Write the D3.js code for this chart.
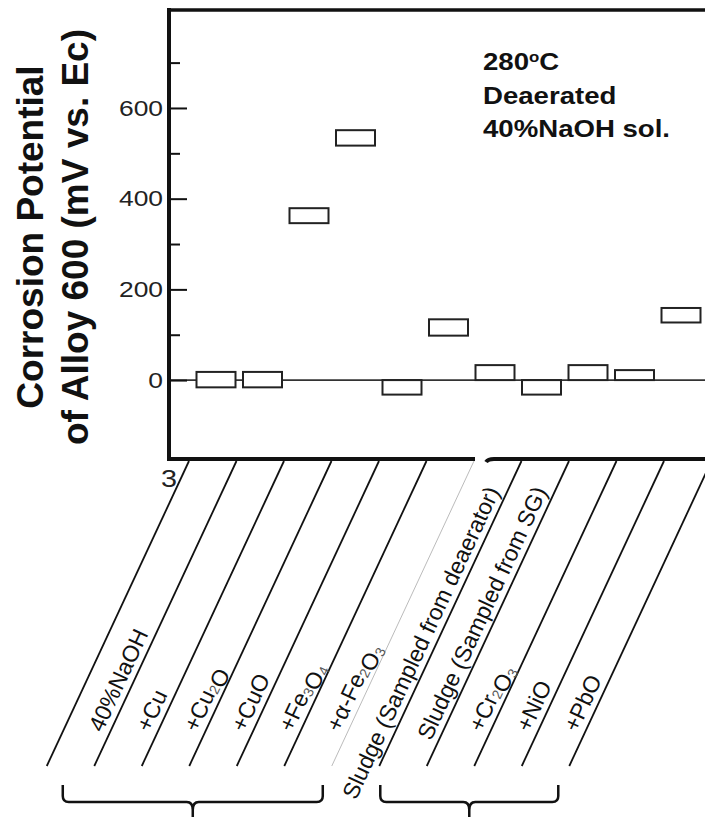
<!DOCTYPE html>
<html>
<head>
<meta charset="utf-8">
<script src="https://cdn.jsdelivr.net/npm/d3@7"></script>
<style>
  body { margin: 0; background: #fff; }
  svg { display: block; }
</style>
</head>
<body>
<div id="chart"></div>
<script>
// categories along the slanted x labels
const categories = ["40%NaOH", "+Cu", "+Cu2O", "+CuO", "+Fe3O4", "+a-Fe2O3",
  "Sludge (Sampled from deaerator)", "Sludge (Sampled from SG)", "+Cr2O3", "+NiO", "+PbO"];
// label text, "_n" marks a subscript
const tickLabels = ["40%NaOH", "+Cu", "+Cu_2O", "+CuO", "+Fe_3O_4", "+α-Fe_2O_3",
  "Sludge (Sampled from deaerator)", "Sludge (Sampled from SG)", "+Cr_2O_3", "+NiO", "+PbO"];
// corrosion potential range for each box (mV vs. Ec)
const lowValues  = [-16, -16, 346, 517, -32,  98,  0, -32,  0,  0, 127];
const highValues = [ 18,  18, 379, 551,   0, 134, 33,   0, 33, 22, 159];

const majorTicks = [0, 200, 400, 600];
const minorTicks = [100, 300, 500, 700];
const noteLines = ["Deaerated", "40%NaOH sol."];

const width = 705, height = 817;
const axisX = 169, plotTop = 10, plotBottom = 459;
const angle = 65 * Math.PI / 180;
const slant = 1 / Math.tan(angle);
const lineTop = 461, lineBottom = 766;
const stretch = "scale(1.2,1)";

const svg = d3.select("#chart").append("svg")
    .attr("width", width)
    .attr("height", height)
    .style("font-family", "'Liberation Sans', Arial, sans-serif");

const y = d3.scaleLinear().domain([-174, 816]).range([plotBottom, plotTop]);
const xBox = d3.scalePoint().domain(categories).range([216, 681]);
const xStrip = d3.scaleBand().domain(categories).range([189, 711.5]);

// zero line
svg.append("line")
    .attr("x1", axisX).attr("x2", width)
    .attr("y1", y(0)).attr("y2", y(0))
    .attr("stroke", "#333").attr("stroke-width", 1.6);

// boxes
const rows = categories.map((c, i) => ({cat: c, lo: lowValues[i], hi: highValues[i]}));
svg.append("g")
  .selectAll("rect")
  .data(rows)
  .join("rect")
    .attr("x", d => xBox(d.cat) - 19.5)
    .attr("width", 39)
    .attr("y", d => y(d.hi))
    .attr("height", d => y(d.lo) - y(d.hi))
    .attr("fill", "#fff")
    .attr("stroke", "#222")
    .attr("stroke-width", 2);

// y axis, ticks pointing inward
const yAxis = svg.append("g")
    .attr("transform", `translate(${axisX},0)`)
    .call(d3.axisLeft(y).tickValues(majorTicks).tickSizeInner(-18).tickSizeOuter(0).tickPadding(5))
    .call(g => g.select(".domain").remove());
yAxis.selectAll(".tick line").attr("stroke", "#111").attr("stroke-width", 2);
yAxis.selectAll(".tick text")
    .attr("fill", "#222")
    .attr("font-size", 22)
    .attr("font-family", "'Liberation Sans', Arial, sans-serif")
    .attr("transform", stretch);

svg.append("g")
    .attr("transform", `translate(${axisX},0)`)
    .call(d3.axisLeft(y).tickValues(minorTicks).tickSizeInner(-11).tickSizeOuter(0).tickFormat(""))
    .call(g => g.select(".domain").remove())
    .selectAll(".tick line").attr("stroke", "#111").attr("stroke-width", 2);

// frame (bottom edge has a small break in the original)
const frame = svg.append("g").attr("stroke", "#111").attr("stroke-width", 4).attr("fill", "none");
frame.append("path").attr("d", `M${axisX},${plotTop - 2}V${plotBottom + 2}`);
frame.append("path").attr("d", `M${axisX - 2},${plotTop}H${width}`).attr("stroke-width", 3.5);
frame.append("path").attr("d", `M${axisX - 2},${plotBottom}H475`);
frame.append("path").attr("d", `M486,${plotBottom + 3}Q488,${plotBottom} 494,${plotBottom}H${width}`);

// y title
const title = ["Corrosion Potential", "of Alloy 600 (mV vs. Ec)"];
svg.append("g")
  .selectAll("text")
  .data(title)
  .join("text")
    .attr("transform", (d, i) => `translate(${43 + i * 45},237) rotate(-90)`)
    .attr("text-anchor", "middle")
    .attr("font-size", 37)
    .attr("font-weight", "bold")
    .attr("fill", "#111")
    .text(d => d);

// note in the corner
const note = svg.append("g").attr("transform", `translate(483,0) ${stretch}`)
    .attr("font-size", 23).attr("font-weight", "bold").attr("fill", "#111");
const t280 = note.append("text").attr("y", 70);
t280.append("tspan").text("280");
t280.append("tspan").attr("font-size", 14).attr("dy", -8).text("o");
t280.append("tspan").attr("dy", 8).text("C");
note.selectAll(".line")
  .data(noteLines)
  .join("text")
    .attr("class", "line")
    .attr("y", (d, i) => 104 + i * 33.5)
    .text(d => d);

// page number stub
svg.append("text")
    .attr("transform", `translate(161,487) ${stretch}`)
    .attr("font-size", 24)
    .attr("fill", "#222")
    .text("3");

// slanted divider lines
const edges = categories.map(c => xStrip(c)).concat([xStrip(categories[categories.length - 1]) + xStrip.bandwidth()]);
svg.append("g")
  .selectAll("line")
  .data(edges)
  .join("line")
    .attr("x1", d => d)
    .attr("y1", lineTop)
    .attr("x2", d => d - (lineBottom - lineTop) * slant)
    .attr("y2", lineBottom)
    .attr("stroke", (d, i) => i === 6 ? "#aaa" : "#111")
    .attr("stroke-width", (d, i) => i === 6 ? 0.8 : 1.8);

// slanted labels
const labelG = svg.append("g").attr("font-size", 23).attr("fill", "#111");
const centerAt = (c, yy) => xStrip(c) + xStrip.bandwidth() / 2 - (yy - lineTop) * slant;
const shift = 7; // labels sit a little right of the strip middle
tickLabels.forEach((lab, i) => {
  const c = categories[i];
  const t = labelG.append("text")
      .attr("dominant-baseline", "central");
  lab.split(/(_\d)/).filter(s => s).forEach(part => {
    if (part[0] === "_") {
      t.append("tspan").attr("font-size", 14).attr("fill", "#555").attr("dy", 5).text(part.slice(1));
      t.append("tspan").attr("dy", -5).text("");
    } else {
      t.append("tspan").text(part);
    }
  });
  // start near the bottom; long labels are pushed down so they stay below the axis
  const len = t.node().getComputedTextLength();
  let y0 = 727;
  if (y0 - len * Math.sin(angle) < 485) y0 = 485 + len * Math.sin(angle);
  const px = centerAt(c, y0) + shift * Math.sin(angle);
  const py = y0 + shift * Math.cos(angle);
  t.attr("transform", `translate(${px},${py}) rotate(-65)`);
});

// braces under the labels
const bottomX = i => edges[i] - (lineBottom - lineTop) * slant;
const braces = [[bottomX(0) + 16, bottomX(6) - 9], [bottomX(7) + 1, bottomX(11) - 11]];
function bracePath(a, b) {
  const m = (a + b) / 2, top = 785, yl = 802;
  return `M${a},${top}V${yl - 6}Q${a},${yl} ${a + 6},${yl}H${m - 6}Q${m},${yl} ${m},${yl + 8}V${height}` +
         `M${m},${yl + 8}Q${m},${yl} ${m + 6},${yl}H${b - 6}Q${b},${yl} ${b},${yl - 6}V${top}`;
}
svg.append("g")
  .selectAll("path")
  .data(braces)
  .join("path")
    .attr("d", d => bracePath(d[0], d[1]))
    .attr("fill", "none")
    .attr("stroke", "#111")
    .attr("stroke-width", 2.5);
</script>
</body>
</html>
